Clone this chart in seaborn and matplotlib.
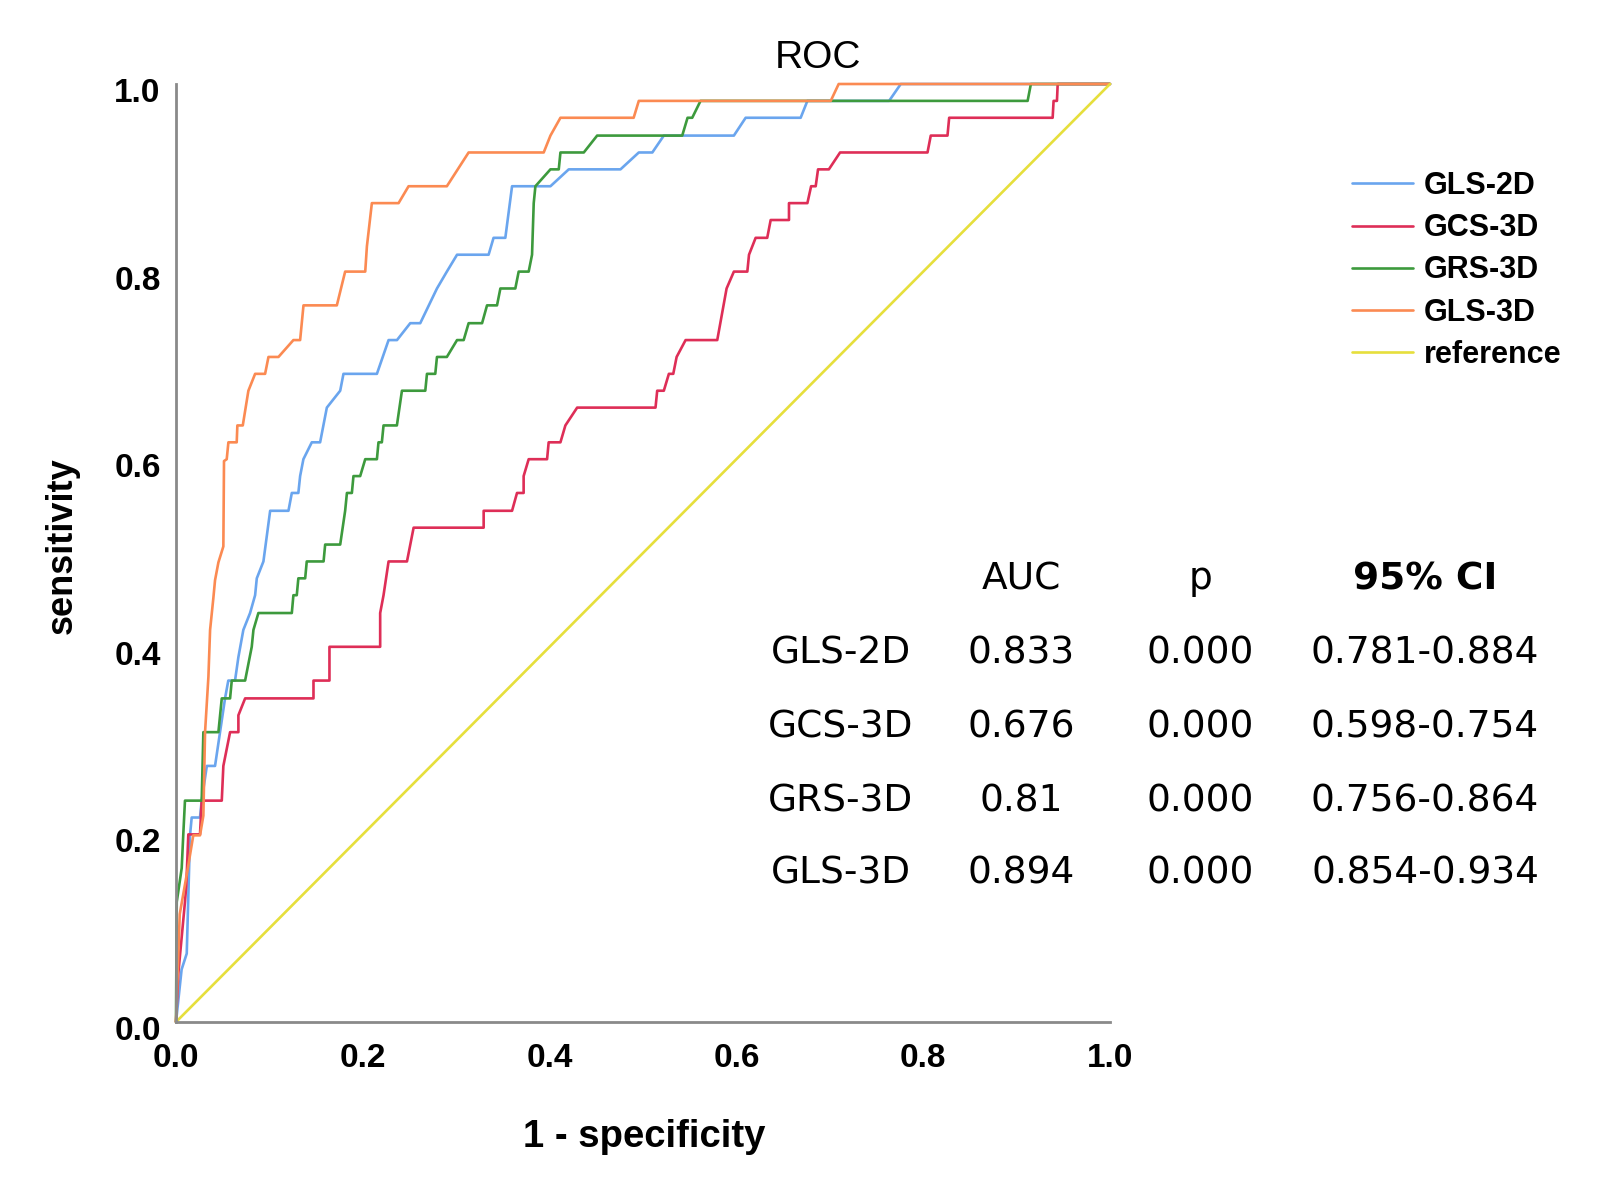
import matplotlib
matplotlib.use("Agg")
import matplotlib.pyplot as plt
import matplotlib.transforms as mtransforms
import pandas as pd
import seaborn as sns

# ROC points (1 - specificity, sensitivity)
gls_2d = [(0, 0), (0.006, 0.056), (0.0115, 0.073), (0.015, 0.199), (0.0168, 0.218), (0.0257, 0.218),
          (0.0275, 0.236), (0.033, 0.273), (0.0418, 0.273), (0.0525, 0.345), (0.056, 0.364), (0.0632, 0.364),
          (0.0668, 0.389), (0.0721, 0.418), (0.0793, 0.436), (0.0847, 0.455), (0.0865, 0.473), (0.0936, 0.491),
          (0.1008, 0.545), (0.1204, 0.545), (0.124, 0.564), (0.131, 0.564), (0.1329, 0.582), (0.1364, 0.6),
          (0.1454, 0.618), (0.1543, 0.618), (0.1615, 0.655), (0.1758, 0.673), (0.1793, 0.691), (0.2151, 0.691),
          (0.2276, 0.727), (0.2366, 0.727), (0.2508, 0.745), (0.2615, 0.745), (0.2794, 0.782), (0.29, 0.8),
          (0.3009, 0.818), (0.3347, 0.818), (0.34, 0.836), (0.3526, 0.836), (0.3598, 0.891), (0.4009, 0.891),
          (0.4205, 0.909), (0.4759, 0.909), (0.4955, 0.927), (0.51, 0.927), (0.5223, 0.945), (0.5973, 0.945),
          (0.6099, 0.964), (0.6688, 0.964), (0.676, 0.982), (0.7635, 0.982), (0.776, 1.0), (1.0, 1.0)]

gcs_3d = [(0, 0), (0.0025, 0.052), (0.0096, 0.128), (0.011, 0.145), (0.0132, 0.2), (0.0257, 0.2),
          (0.0275, 0.236), (0.049, 0.236), (0.0507, 0.273), (0.0579, 0.309), (0.0668, 0.309), (0.0668, 0.327),
          (0.074, 0.345), (0.1472, 0.345), (0.1472, 0.364), (0.1643, 0.364), (0.1643, 0.4), (0.2186, 0.4),
          (0.2186, 0.436), (0.2222, 0.455), (0.2276, 0.491), (0.2473, 0.491), (0.2544, 0.527), (0.3294, 0.527),
          (0.3294, 0.545), (0.3598, 0.545), (0.3651, 0.564), (0.3722, 0.564), (0.3722, 0.582), (0.3776, 0.6),
          (0.3973, 0.6), (0.399, 0.618), (0.4116, 0.618), (0.4169, 0.636), (0.4295, 0.655), (0.5134, 0.655),
          (0.5152, 0.673), (0.5223, 0.673), (0.5277, 0.691), (0.5324, 0.691), (0.536, 0.709), (0.5456, 0.727),
          (0.5795, 0.727), (0.5895, 0.782), (0.5973, 0.8), (0.6117, 0.8), (0.6135, 0.818), (0.6206, 0.836),
          (0.633, 0.836), (0.6367, 0.855), (0.6563, 0.855), (0.6563, 0.873), (0.676, 0.873), (0.68, 0.891),
          (0.6849, 0.891), (0.6874, 0.909), (0.699, 0.909), (0.711, 0.927), (0.8046, 0.927), (0.8081, 0.945),
          (0.826, 0.945), (0.8278, 0.964), (0.9386, 0.964), (0.9396, 0.982), (0.9432, 0.982), (0.944, 1.0),
          (1.0, 1.0)]

grs_3d = [(0, 0), (0.0008, 0.128), (0.0061, 0.164), (0.0078, 0.2), (0.0096, 0.236), (0.0275, 0.236),
          (0.0293, 0.309), (0.0454, 0.309), (0.049, 0.345), (0.0579, 0.345), (0.0597, 0.364), (0.074, 0.364),
          (0.0811, 0.4), (0.0829, 0.418), (0.0882, 0.436), (0.124, 0.436), (0.1257, 0.455), (0.1293, 0.455),
          (0.131, 0.473), (0.1383, 0.473), (0.14, 0.491), (0.158, 0.491), (0.1597, 0.509), (0.1758, 0.509),
          (0.1811, 0.545), (0.183, 0.564), (0.1883, 0.564), (0.19, 0.582), (0.1972, 0.582), (0.2026, 0.6),
          (0.2151, 0.6), (0.2168, 0.618), (0.2204, 0.618), (0.2222, 0.636), (0.2365, 0.636), (0.2419, 0.673),
          (0.2669, 0.673), (0.2687, 0.691), (0.2776, 0.691), (0.2794, 0.709), (0.29, 0.709), (0.3009, 0.727),
          (0.308, 0.727), (0.3133, 0.745), (0.3277, 0.745), (0.333, 0.764), (0.3437, 0.764), (0.3473, 0.782),
          (0.3633, 0.782), (0.3669, 0.8), (0.3776, 0.8), (0.3812, 0.818), (0.383, 0.873), (0.3848, 0.891),
          (0.4009, 0.909), (0.4098, 0.909), (0.4116, 0.927), (0.4366, 0.927), (0.4509, 0.945), (0.542, 0.945),
          (0.5477, 0.964), (0.5527, 0.964), (0.5616, 0.982), (0.9118, 0.982), (0.9153, 1.0), (1.0, 1.0)]

gls_3d = [(0, 0), (0.004, 0.115), (0.012, 0.16), (0.0185, 0.199), (0.0257, 0.199), (0.0293, 0.22),
          (0.0311, 0.309), (0.0347, 0.368), (0.0365, 0.418), (0.04, 0.452), (0.0418, 0.471), (0.0454, 0.49),
          (0.0507, 0.507), (0.0514, 0.598), (0.0543, 0.6), (0.0561, 0.618), (0.065, 0.618), (0.0657, 0.636),
          (0.0715, 0.636), (0.0775, 0.673), (0.0847, 0.691), (0.0954, 0.691), (0.099, 0.709), (0.1097, 0.709),
          (0.1257, 0.727), (0.1329, 0.727), (0.1365, 0.764), (0.1722, 0.764), (0.1811, 0.8), (0.2026, 0.8),
          (0.2044, 0.827), (0.2097, 0.873), (0.2383, 0.873), (0.249, 0.891), (0.29, 0.891), (0.3133, 0.927),
          (0.3937, 0.927), (0.4009, 0.945), (0.4116, 0.964), (0.49, 0.964), (0.4955, 0.982), (0.701, 0.982),
          (0.7095, 1.0), (1.0, 1.0)]

reference = [(0, 0), (1, 1)]

models = ["GLS-2D", "GCS-3D", "GRS-3D", "GLS-3D", "reference"]
colors = ["#6aa5ee", "#de2e57", "#3d9a3d", "#fb8a52", "#e6df3c"]

# table of statistics
tab_rows = ["GLS-2D", "GCS-3D", "GRS-3D", "GLS-3D"]
tab_auc = ["0.833", "0.676", "0.81", "0.894"]
tab_p = ["0.000", "0.000", "0.000", "0.000"]
tab_ci = ["0.781-0.884", "0.598-0.754", "0.756-0.864", "0.854-0.934"]

curves = [gls_2d, gcs_3d, grs_3d, gls_3d, reference]
frames = []
for name, pts in zip(models, curves):
    d = pd.DataFrame(pts, columns=["fpr", "tpr"])
    d["model"] = name
    frames.append(d)
df = pd.concat(frames, ignore_index=True)

sns.set_theme(style="white")
plt.rcParams["font.family"] = ["Liberation Sans", "DejaVu Sans"]
for k in ["text.color", "axes.labelcolor", "xtick.color", "ytick.color"]:
    plt.rcParams[k] = "black"

W, H = 1612, 1188
fig = plt.figure(figsize=(W / 100, H / 100), dpi=100)
ax = fig.add_axes([176 / W, 1 - 1022 / H, (1110 - 176) / W, (1022 - 84) / H])

sns.lineplot(data=df, x="fpr", y="tpr", hue="model", hue_order=models,
             palette=colors, sort=False, estimator=None, linewidth=1.9, ax=ax)
for ln in ax.lines:
    ln.set_clip_on(False)

ax.set_xlim(0, 1)
ax.set_ylim(0, 1)
ax.set_xticks([0, 0.2, 0.4, 0.6, 0.8, 1.0])
ax.set_yticks([0, 0.2, 0.4, 0.6, 0.8, 1.0])
ax.set_xticklabels(["0.0", "0.2", "0.4", "0.6", "0.8", "1.0"], fontsize=24, fontweight="bold")
ax.set_yticklabels(["0.0", "0.2", "0.4", "0.6", "0.8", "1.0"], fontsize=24, fontweight="bold")
ax.tick_params(axis="x", length=0, pad=15)
ax.tick_params(axis="y", length=0, pad=11)
shift = mtransforms.ScaledTranslation(0, -6 / 100, fig.dpi_scale_trans)
for lab in ax.get_yticklabels():
    lab.set_transform(lab.get_transform() + shift)
ax.set_xlabel("")
ax.set_ylabel("")
sns.despine(ax=ax)
for s in ["left", "bottom"]:
    ax.spines[s].set_color("#8a8a8a")
    ax.spines[s].set_linewidth(2)

handles, labels = ax.get_legend_handles_labels()
ax.legend(handles, labels, loc="upper left", bbox_to_anchor=(1352 / W, 1 - 171 / H),
          bbox_transform=fig.transFigure, frameon=False, borderpad=0, borderaxespad=0,
          handlelength=2.0, handletextpad=0.35, labelspacing=0.4,
          prop={"size": 22, "weight": "bold"})

fig.text(818 / W, 1 - 68 / H, "ROC", ha="center", va="baseline", fontsize=28)
fig.text(72 / W, 1 - 546 / H, "sensitivity", rotation=90, rotation_mode="anchor",
         ha="center", va="baseline", fontsize=26, fontweight="bold")
fig.text(644 / W, 1 - 1147 / H, "1 - specificity", ha="center", va="baseline",
         fontsize=27.5, fontweight="bold")

# statistics table
col_x = [841, 1021, 1200, 1425]
tfont = ["DejaVu Sans"]
fig.text(col_x[1] / W, 1 - 589 / H, "AUC", ha="center", va="baseline", fontsize=27, family=tfont)
fig.text(col_x[2] / W, 1 - 589 / H, "p", ha="center", va="baseline", fontsize=27, family=tfont)
fig.text(col_x[3] / W, 1 - 589 / H, "95% CI", ha="center", va="baseline", fontsize=27,
         fontweight="bold", family=tfont)
row_y = [663, 737, 811, 883]
for i in range(len(tab_rows)):
    for cx, val in zip(col_x, [tab_rows[i], tab_auc[i], tab_p[i], tab_ci[i]]):
        fig.text(cx / W, 1 - row_y[i] / H, val, ha="center", va="baseline", fontsize=27, family=tfont)

fig.savefig("out.png", dpi=100)
